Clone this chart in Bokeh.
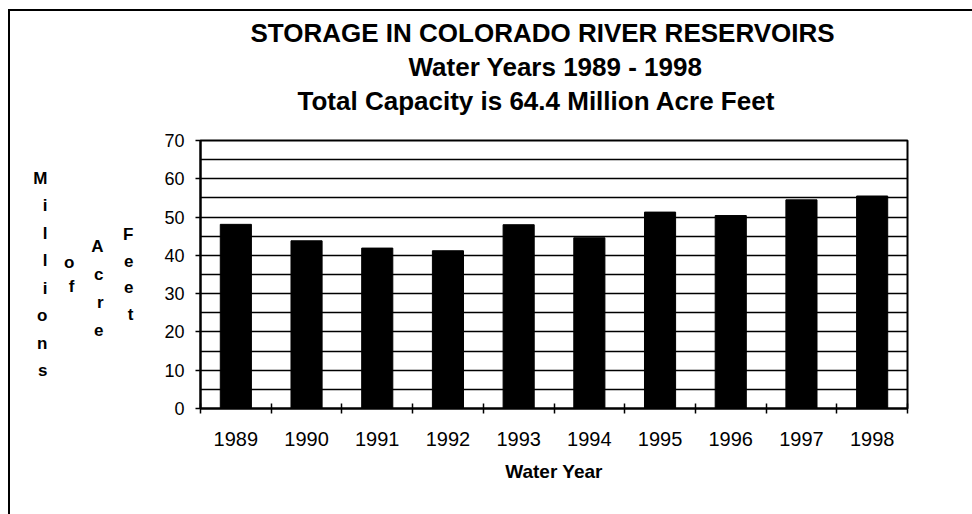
from bokeh.plotting import figure
from bokeh.models import (Range1d, FixedTicker, SingleIntervalTicker, Title,
                          LinearAxis, CustomJSTickFormatter)
from bokeh.embed import file_html
from bokeh.resources import INLINE

# ---- data -------------------------------------------------------------
years = ["1989", "1990", "1991", "1992", "1993", "1994", "1995", "1996", "1997", "1998"]
storage = [48.1, 43.8, 41.9, 41.2, 48.0, 44.6, 51.3, 50.4, 54.5, 55.5]
y_ticks = [0, 10, 20, 30, 40, 50, 60, 70]
title_lines = ["STORAGE IN COLORADO RIVER RESERVOIRS",
               "Water Years 1989 - 1998",
               "Total Capacity is 64.4 Million Acre Feet"]
x_title = "Water Year"
y_title_words = ["Millions", "of", "Acre", "Feet"]

FONT = "Liberation Sans"
n = len(years)
centers = [i + 0.5 for i in range(n)]
bounds = list(range(n + 1))

p = figure(width=972, height=514, output_backend="svg", toolbar_location=None,
           x_range=Range1d(0, n), y_range=Range1d(0, 70),
           min_border_left=200, min_border_right=65,
           min_border_top=140, min_border_bottom=106)
# open outer frame (top and left edges) painted behind a transparent border area
p.styles = {
    "background-color": "white",
    "background-image": "linear-gradient(#000, #000), linear-gradient(#000, #000)",
    "background-position": "8px 9px, 8px 9px",
    "background-size": "2px 505px, 964px 2px",
    "background-repeat": "no-repeat",
}
p.background_fill_color = "white"
p.border_fill_color = None
p.outline_line_color = "black"
p.outline_line_width = 2

p.vbar(x=centers, top=storage, width=0.44, bottom=0,
       fill_color="black", line_color="black")

# grid every 5
p.xgrid.visible = False
p.ygrid.ticker = SingleIntervalTicker(interval=5)
p.ygrid.grid_line_color = "black"
p.ygrid.grid_line_width = 1.5

# x axis
xa = p.xaxis[0]
xa.ticker = FixedTicker(ticks=centers, minor_ticks=bounds)
xa.formatter = CustomJSTickFormatter(args=dict(years=years),
                                     code="return years[Math.floor(tick)];")
xa.major_tick_in = 0
xa.major_tick_out = 0
xa.minor_tick_in = 5
xa.minor_tick_out = 5
xa.minor_tick_line_color = "black"
xa.minor_tick_line_width = 1.5
xa.axis_line_color = "black"
xa.axis_line_width = 2
xa.major_label_text_font = FONT
xa.major_label_text_font_size = "20px"
xa.major_label_text_color = "black"
xa.major_label_standoff = 18
xa.axis_label = x_title
xa.axis_label_text_font = FONT
xa.axis_label_text_font_style = "bold"
xa.axis_label_text_font_size = "19px"
xa.axis_label_text_color = "black"
xa.axis_label_standoff = 12

# y axis
ya = p.yaxis[0]
ya.ticker = FixedTicker(ticks=y_ticks)
ya.major_tick_in = 0
ya.major_tick_out = 5
ya.minor_tick_line_color = None
ya.major_tick_line_color = "black"
ya.major_tick_line_width = 1.5
ya.axis_line_color = "black"
ya.axis_line_width = 2
ya.major_label_text_font = FONT
ya.major_label_text_font_size = "18px"
ya.major_label_text_color = "black"
ya.major_label_standoff = 11
ya.axis_label_standoff = 0

# stacked y-axis title: one label-only axis per word, nearest the plot first
word_style = {"Feet": ("", 28, 1.42), "Acre": ("\n", 17, 1.47),
              "of": ("", 14, 1.25), "Millions": ("", 14, 1.45)}
for w in reversed(y_title_words):
    pre, stand, lh = word_style[w]
    ax = LinearAxis(ticker=FixedTicker(ticks=[]), axis_line_color=None,
                    major_tick_line_color=None, minor_tick_line_color=None,
                    major_tick_out=0, major_tick_in=0, major_label_standoff=0,
                    major_label_text_font_size="0px",
                    axis_label=pre + "\n".join(w), axis_label_orientation="horizontal",
                    axis_label_standoff=stand, axis_label_text_font=FONT,
                    axis_label_text_font_style="bold", axis_label_text_font_size="17px",
                    axis_label_text_line_height=lh, axis_label_text_color="black",
                    axis_label_text_align="center")
    p.add_layout(ax, "left")

# blank spacer title between the plot and the title block
p.add_layout(Title(text=" ", text_font_size="10px", standoff=11), "above")

# titles, nearest to plot first (line 3, 2, 1)
title_offsets = [50, 208, 97]
for txt, off in reversed(list(zip(title_lines, title_offsets))):
    p.add_layout(Title(text=txt, align="left", offset=off, standoff=2,
                       text_font=FONT, text_font_style="bold", text_font_size="26px",
                       text_color="black"), "above")

open("out.html", "w").write(file_html(p, INLINE))
